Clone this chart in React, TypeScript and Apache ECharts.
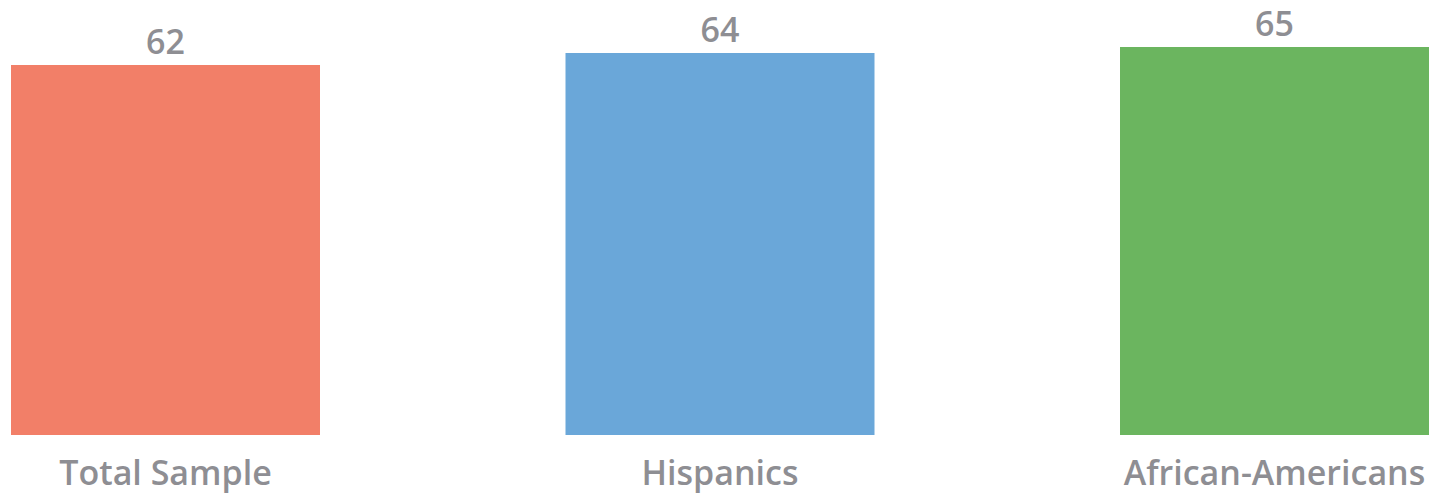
import React, { useEffect, useRef } from "react";
import * as echarts from "echarts";

const categories = ["Total Sample", "Hispanics", "African-Americans"];
const values = [62, 64, 65];
const barColors = ["#F27F68", "#6AA7D9", "#6BB55F"];

export default function App() {
  const ref = useRef<HTMLDivElement>(null);
  useEffect(() => {
    const chart = echarts.init(ref.current!, null, { renderer: "svg" });
    const textColor = "#8E8E93";
    chart.setOption({
      animation: false,
      backgroundColor: "#ffffff",
      grid: {
        left: -111.75,
        right: -115.75,
        top: 47,
        bottom: 60,
        containLabel: false,
        outerBoundsMode: "none",
      },
      xAxis: {
        type: "category",
        data: categories,
        axisLine: { show: false },
        axisTick: { show: false },
        axisLabel: {
          color: textColor,
          fontFamily: "Open Sans",
          fontWeight: 600,
          fontSize: 34,
          margin: 20,
        },
      },
      yAxis: {
        type: "value",
        min: 0,
        max: 65,
        show: false,
        splitLine: { show: false },
      },
      series: [
        {
          type: "bar",
          barWidth: 309,
          data: values.map((v, i) => ({ value: v, itemStyle: { color: barColors[i] } })),
          label: {
            show: true,
            position: "top",
            distance: 7,
            color: textColor,
            fontFamily: "Open Sans",
            fontWeight: 600,
            fontSize: 34,
          },
        },
      ],
    });
    return () => chart.dispose();
  }, []);
  return (
    <div
      ref={ref}
      style={{ position: "absolute", left: 0, top: 0, width: 1436, height: 495 }}
    />
  );
}
